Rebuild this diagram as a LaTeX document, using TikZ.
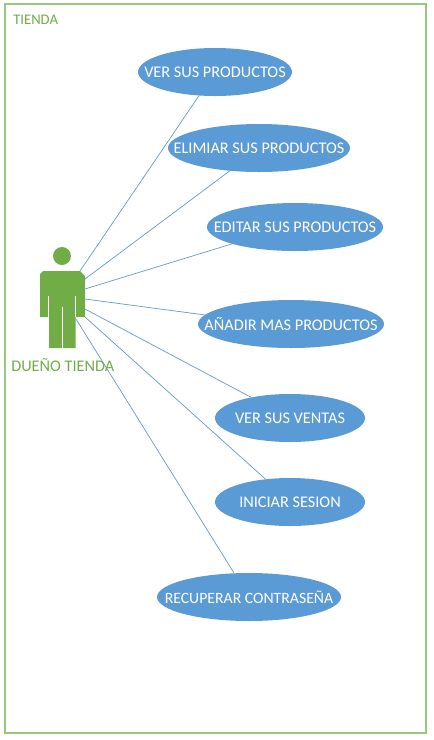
\documentclass[tikz,border=0pt]{standalone}
\usepackage{fontspec}
\setmainfont{Carlito}
\usetikzlibrary{shapes.geometric}
\definecolor{verde}{HTML}{70AD47}
\definecolor{azul}{HTML}{5B9BD5}
\definecolor{linea}{HTML}{6C9CC8}
\newcommand{\etiq}[1]{\makebox[0pt]{#1}}
\tikzset{
  caso/.style={ellipse,fill=azul,text=white,inner sep=0pt,minimum height=36pt,font=\fontsize{12.2}{14}\selectfont},
  rotulo/.style={text=verde,inner sep=0pt,font=\fontsize{11}{13}\selectfont},
  enlace/.style={draw=linea,line width=0.55pt},
  corte/.style={draw=white,line width=0.7pt}
}
\begin{document}
\begin{tikzpicture}[x=0.75pt,y=-0.75pt]
\useasboundingbox (0,0) rectangle (434,740);
\draw[verde!70,line width=0.8pt] (5,4) rectangle (426,733);

\node[rotulo,anchor=west] (TIENDA) at (13,20) {TIENDA};
\node[rotulo,anchor=west,font=\fontsize{12.2}{14}\selectfont] (DUENO) at (11,365) {DUEÑO TIENDA};

\node[caso,minimum width=115.5pt] (VER) at (215,72) {\etiq{VER SUS PRODUCTOS}};
\node[caso,minimum width=136.5pt] (ELIM) at (259,148) {\etiq{ELIMIAR SUS PRODUCTOS}};
\node[caso,minimum width=132pt] (EDIT) at (295,227) {\etiq{EDITAR SUS PRODUCTOS}};
\node[caso,minimum width=139.5pt] (ANADIR) at (291,324) {\etiq{AÑADIR MAS PRODUCTOS}};
\node[caso,minimum width=112.5pt] (VENTAS) at (290,418) {\etiq{VER SUS VENTAS}};
\node[caso,minimum width=112.5pt] (SESION) at (290,502) {\etiq{INICIAR SESION}};
\node[caso,minimum width=138pt,font=\fontsize{11.8}{14}\selectfont] (RECUP) at (249,597) {\etiq{RECUPERAR CONTRASEÑA}};

% muñeco
\fill[verde] (62,256) circle (9);
\fill[verde] (43,271) -- (80,271) -- (85,276) -- (85,317) -- (75.5,317) -- (75.5,348)
  -- (49,348) -- (49,317) -- (40,317) -- (40,274) -- cycle;
\draw[corte] (48.7,296) -- (48.7,317);
\draw[corte] (75.5,296) -- (75.5,317);
\draw[corte] (62,307) -- (62,348);

\coordinate (A) at (80,271);
\coordinate (B) at (85,279);
\coordinate (C) at (85,289);
\coordinate (D) at (85,299);
\coordinate (E) at (85,309);
\coordinate (F) at (85,317);
\coordinate (G) at (76,319);

\draw[enlace] (A) -- (VER.236);
\draw[enlace] (B) -- (ELIM.218);
\draw[enlace] (C) -- (EDIT.195);
\draw[enlace] (D) -- (ANADIR.174);
\draw[enlace] (E) -- (VENTAS.152);
\draw[enlace] (F) -- (SESION.137);
\draw[enlace] (G) -- (RECUP.122);
\end{tikzpicture}
\end{document}
